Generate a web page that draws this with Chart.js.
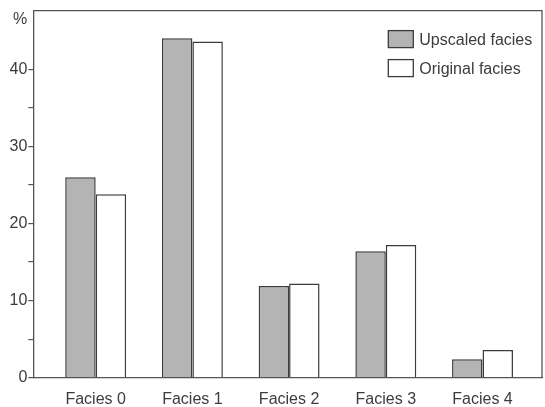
<!DOCTYPE html>
<html>
<head>
<meta charset="utf-8">
<script src="https://cdn.jsdelivr.net/npm/chart.js@4.4.1/dist/chart.umd.min.js"></script>
<style>
  html, body { margin: 0; padding: 0; background: #fff; }
  #wrap { width: 545px; height: 407px; }
</style>
</head>
<body>
<div id="wrap"><canvas id="c" width="545" height="407"></canvas></div>
<script>
// Facies proportions (%)
const categories = ['Facies 0', 'Facies 1', 'Facies 2', 'Facies 3', 'Facies 4'];
const upscaled = [26.0, 44.0, 11.9, 16.4, 2.4];
const original = [23.8, 43.6, 12.2, 17.2, 3.6];
const seriesNames = ['Upscaled facies', 'Original facies'];
const yMajorTicks = [0, 10, 20, 30, 40];

const FONT = '"Liberation Sans", Arial, sans-serif';
const INK = '#3c3c3c';

const toPoints = arr => arr.map((v, i) => ({ x: i, y: v }));

// Frame on top/right plus the boxed legend in the upper right corner
const framePlugin = {
  id: 'frame',
  afterDraw(chart) {
    const { ctx, chartArea: a } = chart;
    ctx.save();
    ctx.strokeStyle = '#555';
    ctx.lineWidth = 1.3;
    ctx.beginPath();
    ctx.moveTo(a.left, a.top);
    ctx.lineTo(a.right, a.top);
    ctx.lineTo(a.right, a.bottom);
    ctx.stroke();

    // unit label
    ctx.fillStyle = INK;
    ctx.font = '16px ' + FONT;
    ctx.textAlign = 'right';
    ctx.textBaseline = 'middle';
    ctx.fillText('%', a.left - 6, a.top + 9);

    // legend
    const items = chart.data.datasets;
    const bx = a.left + 355, by = a.top + 20, bw = 25, bh = 17, gap = 29;
    ctx.textAlign = 'left';
    items.forEach((ds, i) => {
      const y = by + i * gap;
      ctx.fillStyle = ds.backgroundColor;
      ctx.fillRect(bx, y, bw, bh);
      ctx.strokeStyle = ds.borderColor;
      ctx.lineWidth = 1.3;
      ctx.strokeRect(bx, y, bw, bh);
      ctx.fillStyle = INK;
      ctx.font = '16px ' + FONT;
      ctx.fillText(ds.label, bx + bw + 6, y + bh / 2 + 1);
    });
    ctx.restore();
  }
};

new Chart(document.getElementById('c'), {
  type: 'bar',
  data: {
    datasets: [
      {
        label: seriesNames[0],
        data: toPoints(upscaled),
        backgroundColor: '#b4b4b4',
        borderColor: '#3c3c3c',
        borderWidth: 1.5,
        borderSkipped: 'bottom'
      },
      {
        label: seriesNames[1],
        data: toPoints(original),
        backgroundColor: '#ffffff',
        borderColor: '#3c3c3c',
        borderWidth: 1.5,
        borderSkipped: 'bottom'
      }
    ]
  },
  options: {
    responsive: false,
    animation: false,
    layout: { padding: { left: 0, top: 10.5, right: 3, bottom: 0 } },
    datasets: { bar: { categoryPercentage: 0.63, barPercentage: 1.0, grouped: true } },
    plugins: {
      legend: { display: false },
      tooltip: { enabled: false }
    },
    scales: {
      x: {
        type: 'linear',
        offset: false,
        min: -0.645,
        max: 4.615,
        afterBuildTicks: s => { s.ticks = categories.map((_, i) => ({ value: i })); },
        afterFit: s => { s.height = 29.3; },
        grid: { display: false, drawTicks: false, offset: false },
        border: { display: true, color: '#555', width: 1.3 },
        ticks: {
          padding: 12,
          color: INK,
          font: { family: FONT, size: 16 },
          callback: v => categories[v] ?? ''
        }
      },
      y: {
        min: 0,
        max: 47.6,
        afterBuildTicks: s => {
          const t = [];
          for (let v = 0; v <= 40; v += 5) t.push({ value: v });
          s.ticks = t;
        },
        afterFit: s => { s.width = 33.3; },
        grid: { drawOnChartArea: false, drawTicks: true, tickLength: 5, color: '#555', lineWidth: 1.2 },
        border: { display: true, color: '#555', width: 1.3 },
        ticks: {
          padding: 1,
          color: INK,
          font: { family: FONT, size: 16 },
          callback: v => (yMajorTicks.includes(v) ? String(v) : '')
        }
      }
    }
  },
  plugins: [framePlugin]
});
</script>
</body>
</html>
